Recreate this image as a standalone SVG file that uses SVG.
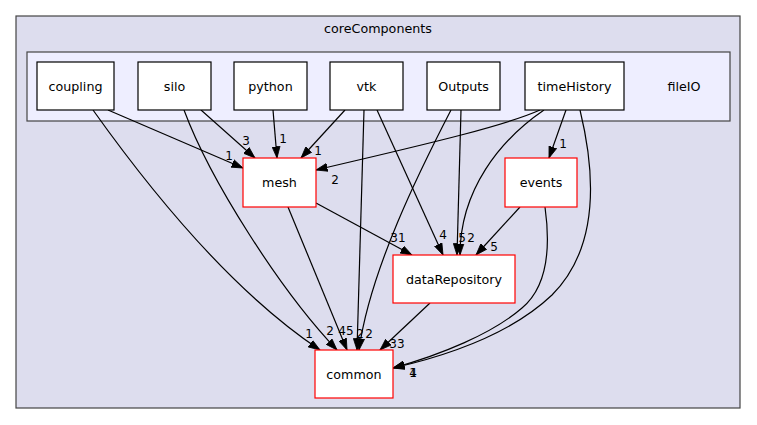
<svg xmlns="http://www.w3.org/2000/svg" width="757" height="425" viewBox="0 0 757 425">
<style>
text{font-family:"DejaVu Sans",Verdana,sans-serif;fill:#000}
.n text{font-size:12.7px;text-anchor:middle}
.lbl{font-size:12px;text-anchor:middle}
.cl{stroke:#444;stroke-width:1.2}
.nb{fill:#fff;stroke:#000;stroke-width:1.2}
.nr{fill:#fff;stroke:#f00;stroke-width:1.2}
#edges path{fill:none;stroke:#000;stroke-width:1.2;marker-end:url(#ah)}
</style>
<defs>
<marker id="ah" markerUnits="userSpaceOnUse" markerWidth="12" markerHeight="9" refX="11.5" refY="4" orient="auto" viewBox="0 0 12 8">
<path d="M0,0 L11.5,4 L0,8 z" fill="#000" stroke="#000" stroke-width="0.8"/>
</marker>
</defs>
<rect width="757" height="425" fill="#fff"/>
<g id="cluster_coreComponents">
<rect class="cl" x="16" y="16" width="724" height="392" fill="#ddddee"/>
<text x="378" y="33" font-size="12.7" text-anchor="middle">coreComponents</text>
</g>
<g id="cluster_fileIO">
<rect class="cl" x="27" y="52" width="703" height="69" fill="#eeeeff"/>
<text x="684" y="91" font-size="12.7" text-anchor="middle">fileIO</text>
</g>
<g id="edges">
<path d="M108,110 L243,168"/>
<path d="M93,110 C150,190 230,290 320,350"/>
<path d="M201,110 L255,158"/>
<path d="M184,110 C210,180 280,290 337,350"/>
<path d="M273,110 L277,158"/>
<path d="M345,110 L301,158"/>
<path d="M364,110 L357,350"/>
<path d="M377,110 L443,255"/>
<path d="M451,110 C420,170 370,270 359,350"/>
<path d="M461,110 L457,255"/>
<path d="M316,203 L412,255"/>
<path d="M288,207 L347,350"/>
<path d="M540,110 C500,128 400,150 316,170"/>
<path d="M544,110 C500,140 460,190 460,255"/>
<path d="M566,110 L549,158"/>
<path d="M580,110 C597,180 597,250 552,295 C512,333 450,355 393,368"/>
<path d="M545,207 C551,250 546,288 522,308 C492,334 440,355 393,368"/>
<path d="M520,207 L476,255"/>
<path d="M430,303 L380,350"/>
<g class="lbl">
<text class="lbl" x="229" y="160">1</text>
<text class="lbl" x="309" y="338">1</text>
<text class="lbl" x="246" y="145">3</text>
<text class="lbl" x="330" y="335">2</text>
<text class="lbl" x="283" y="143">1</text>
<text class="lbl" x="318" y="155">1</text>
<text class="lbl" x="360" y="338">2</text>
<text class="lbl" x="443" y="239">4</text>
<text class="lbl" x="369" y="338">2</text>
<text class="lbl" x="462" y="242">5</text>
<text class="lbl" x="398" y="242">31</text>
<text class="lbl" x="346" y="335">45</text>
<text class="lbl" x="335" y="184">2</text>
<text class="lbl" x="471" y="242">2</text>
<text class="lbl" x="563" y="148">1</text>
<text class="lbl" x="413" y="377">1</text>
<text class="lbl" x="413" y="377">4</text>
<text class="lbl" x="494" y="251">5</text>
<text class="lbl" x="397" y="348">33</text>
</g>
</g>
<g id="node_coupling" class="n"><rect class="nb" x="37" y="62" width="77" height="48"/><text x="75.5" y="90.5">coupling</text></g>
<g id="node_silo" class="n"><rect class="nb" x="138" y="62" width="73" height="48"/><text x="174.5" y="90.5">silo</text></g>
<g id="node_python" class="n"><rect class="nb" x="234" y="62" width="73" height="48"/><text x="270.5" y="90.5">python</text></g>
<g id="node_vtk" class="n"><rect class="nb" x="330" y="62" width="73" height="48"/><text x="366.5" y="90.5">vtk</text></g>
<g id="node_Outputs" class="n"><rect class="nb" x="427" y="62" width="73" height="48"/><text x="463.5" y="90.5">Outputs</text></g>
<g id="node_timeHistory" class="n"><rect class="nb" x="525" y="62" width="99" height="48"/><text x="574.5" y="90.5">timeHistory</text></g>
<g id="node_mesh" class="n"><rect class="nr" x="243" y="158" width="73" height="49"/><text x="279.5" y="187">mesh</text></g>
<g id="node_events" class="n"><rect class="nr" x="505" y="158" width="72" height="49"/><text x="541" y="187">events</text></g>
<g id="node_dataRepository" class="n"><rect class="nr" x="393" y="255" width="122" height="48"/><text x="454" y="284">dataRepository</text></g>
<g id="node_common" class="n"><rect class="nr" x="315" y="350" width="78" height="48"/><text x="354" y="379">common</text></g>
</svg>
